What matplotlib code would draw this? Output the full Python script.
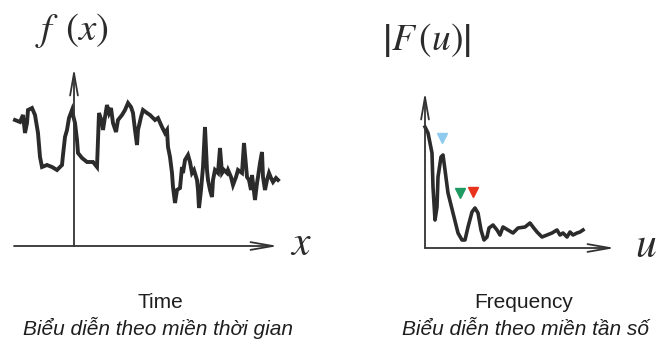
import matplotlib.pyplot as plt

plt.rcParams['mathtext.fontset'] = 'stix'

# time signal f(x) (x along the axis, y above it)
time_x = [-59, -54, -51, -49, -47, -46, -42, -39, -36, -34, -32, -27, -22, -17, -12,
          -11, -9, -7, -5, -2, -1, 1, 3, 4, 8, 13, 19, 23, 24, 25, 28, 29, 31, 33, 35,
          37, 39, 42, 44, 48, 51, 54, 57, 59, 61, 63, 64, 67, 69, 73, 76, 81, 84, 88,
          91, 93, 94, 96, 98, 99, 101, 103, 106, 108, 109, 111, 114, 116, 118, 120,
          123, 124, 125, 127, 129, 131, 133, 134, 136, 138, 139, 141, 144, 146, 148,
          150, 153, 154, 157, 159, 162, 164, 168, 170, 173, 175, 177, 178, 181, 183,
          184, 186, 188, 189, 191, 193, 195, 197, 199, 202, 204]
time_y = [126, 124, 131, 113, 123, 136, 138, 131, 113, 89, 79, 81, 79, 76, 81,
          91, 109, 116, 128, 136, 131, 123, 106, 93, 88, 84, 84, 79, 106, 133, 124,
          116, 129, 141, 133, 138, 123, 114, 126, 131, 136, 143, 139, 133, 116, 101,
          116, 129, 136, 133, 131, 126, 128, 119, 113, 116, 99, 89, 73, 59, 43, 56,
          58, 79, 73, 86, 91, 84, 73, 76, 66, 56, 38, 56, 79, 119, 76, 66, 56, 49,
          66, 76, 73, 98, 73, 76, 73, 76, 69, 61, 69, 76, 73, 103, 69, 66, 56, 71,
          46, 63, 69, 83, 94, 69, 56, 66, 73, 68, 64, 68, 66]

# magnitude spectrum |F(u)|
freq_u = [0, 3, 7, 8, 10, 12, 13, 16, 18, 20, 23, 28, 33, 37, 40, 43, 47, 50, 53,
          56, 59, 62, 64, 68, 72, 75, 78, 83, 88, 93, 100, 105, 108, 112, 117, 122,
          127, 132, 135, 138, 142, 145, 148, 152, 155, 158]
freq_mag = [121, 115, 95, 61, 28, 41, 71, 91, 93, 78, 55, 35, 15, 8, 8, 21, 36, 40,
            35, 18, 8, 11, 20, 23, 18, 13, 21, 18, 15, 20, 21, 25, 21, 16, 11, 13,
            15, 18, 13, 15, 11, 16, 13, 15, 16, 18]

# coloured peak markers
peak_u = [17, 35, 48]
peak_mag = [110, 55, 56]
peak_colors = ['#8ecbef', '#1f9a63', '#e8321e']

W, H = 661, 346
fig = plt.figure(figsize=(W / 100, H / 100), dpi=100)


def px_axes(x0, y0, x1, y1):
    # x0,y0 = top-left pixel, x1,y1 = bottom-right pixel
    ax = fig.add_axes([x0 / W, 1 - y1 / H, (x1 - x0) / W, (y1 - y0) / H])
    ax.set_axis_off()
    return ax


ink = '#2b2b2b'
arrow = dict(arrowstyle='->, head_length=1.6, head_width=0.28', lw=1.3,
             color='#333333', shrinkA=0, shrinkB=0)

# left panel: origin at pixel (74, 246)
ax1 = px_axes(12, 58, 288, 256)
ax1.set_xlim(-62, 214)
ax1.set_ylim(-10, 188)
ax1.plot(time_x, time_y, color=ink, lw=2.8, solid_joinstyle='miter')
ax1.annotate('', xy=(204, 0), xytext=(-60, 0), arrowprops=arrow)
ax1.annotate('', xy=(0, 178), xytext=(0, 0), arrowprops=arrow)

# right panel: origin at pixel (425, 248)
ax2 = px_axes(415, 80, 625, 258)
ax2.set_xlim(-10, 200)
ax2.set_ylim(-10, 168)
ax2.plot(freq_u, freq_mag, color=ink, lw=2.6, solid_joinstyle='round')
ax2.annotate('', xy=(190, 0), xytext=(0, 0), arrowprops=arrow)
ax2.annotate('', xy=(0, 156), xytext=(0, 0), arrowprops=arrow)
for u, m, c in zip(peak_u, peak_mag, peak_colors):
    ax2.plot(u, m, marker='v', color=c, markersize=7, linestyle='none')

# axis labels
fig.text(72 / W, 1 - 30 / H, r'$f\ \,(x)$', fontsize=28, color=ink,
         ha='center', va='center')
fig.text(426 / W, 1 - 40 / H, r'$\left|F\,(u)\right|$', fontsize=27, color=ink,
         ha='center', va='center')
fig.text(301 / W, 1 - 243 / H, r'$x$', fontsize=30, color=ink,
         ha='center', va='center')
fig.text(646 / W, 1 - 245 / H, r'$u$', fontsize=30, color=ink,
         ha='center', va='center')

# captions
cap = dict(family='Liberation Sans', fontsize=15, color='#1e1e1e', ha='center',
           va='baseline')
fig.text(160 / W, 1 - 308 / H, 'Time', **cap)
fig.text(524 / W, 1 - 308 / H, 'Frequency', **cap)
fig.text(158 / W, 1 - 335 / H, 'Biểu diễn theo miền thời gian', style='italic', **cap)
fig.text(525 / W, 1 - 335 / H, 'Biểu diễn theo miền tần số', style='italic', **cap)

fig.savefig('out.png', dpi=100)
